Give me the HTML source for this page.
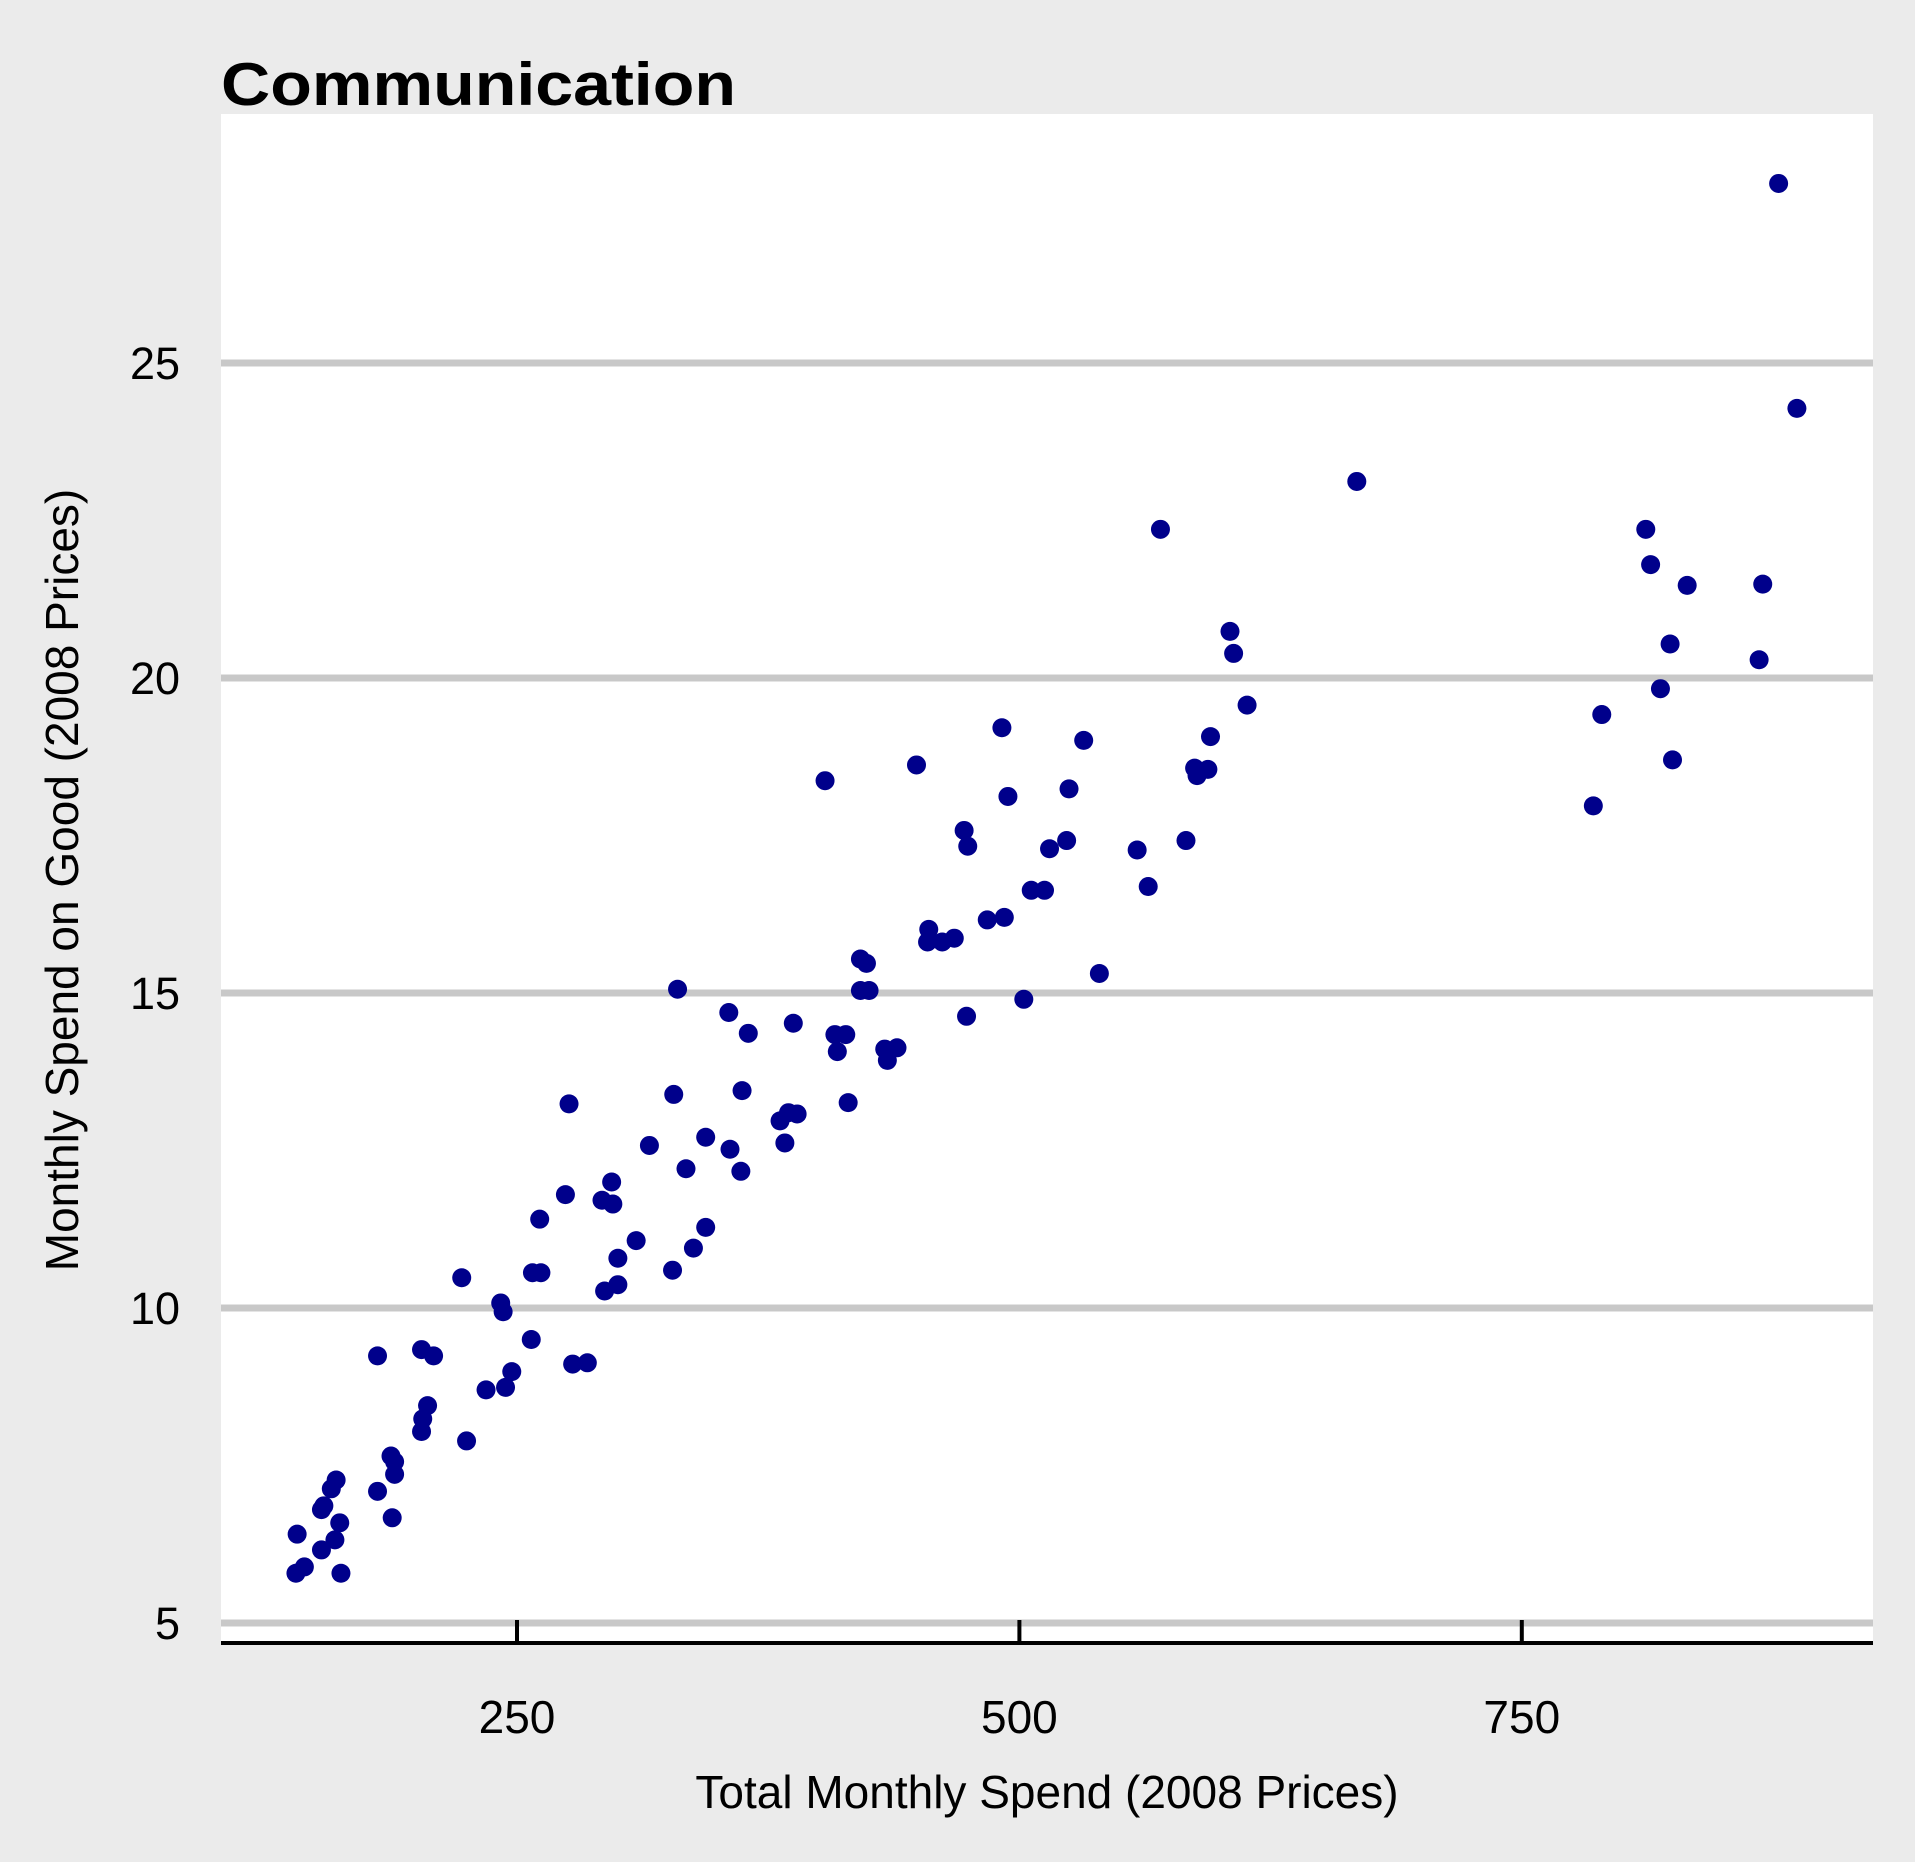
<!DOCTYPE html>
<html><head><meta charset="utf-8"><style>
html,body{margin:0;padding:0;background:#ebebeb;}
svg{display:block;font-family:"Liberation Sans",Arial,sans-serif;}
</style></head><body>
<svg id="chart" width="1915" height="1862" viewBox="0 0 1915 1862">
<rect x="0" y="0" width="1915" height="1862" fill="#ebebeb"/>
<rect x="221" y="114" width="1652" height="1529" fill="#ffffff"/>
<text x="221" y="105" font-size="60" font-weight="bold" fill="#000" textLength="515" lengthAdjust="spacingAndGlyphs">Communication</text>
<g id="grid"></g>
<g id="points"></g>
<g id="axes"></g>
<text x="1047" y="1808" font-size="46" text-anchor="middle" fill="#000">Total Monthly Spend (2008 Prices)</text>
<text transform="translate(78,880) rotate(-90)" font-size="46" text-anchor="middle" fill="#000">Monthly Spend on Good (2008 Prices)</text>
</svg>
<script>
const xTicks = [250, 500, 750];
const yTicks = [5, 10, 15, 20, 25];
const xValues = [876.8,885.9,666.9,569.2,810.7,813.1,831.3,868.9,822.8,867.1,818.0,788.8,824.0,784.6,603.8,605.6,612.3,594.1,586.2,592.8,587.4,581.9,557.6,563.1,538.8,531.0,523.7,522.5,514.0,511.5,504.9,501.2,490.3,493.3,491.5,483.0,471.5,473.3,472.7,466.6,460.6,453.3,453.9,447.8,402.3,419.9,422.9,419.9,424.2,438.1,432.0,433.3,407.2,412.6,408.4,413.8,386.5,364.1,354.4,328.9,361.0,327.0,388.4,384.1,379.9,382.3,342.9,355.0,314.9,333.1,360.4,274.9,273.1,296.1,291.3,296.7,260.3,342.9,308.3,336.8,299.2,326.4,256.7,260.9,221.5,299.2,292.6,240.9,242.1,256.1,179.6,201.5,207.5,276.7,284.0,246.4,233.6,243.3,204.5,202.1,201.5,223.9,186.3,188.1,188.1,179.6,159.0,156.6,152.9,151.7,186.9,160.8,139.6,158.4,151.7,143.2,139.0,161.4];
const yValues = [27.85,24.28,23.12,22.36,22.36,21.80,21.47,21.49,20.54,20.29,19.83,19.42,18.70,17.97,20.74,20.39,19.57,19.07,18.57,18.55,18.45,17.42,17.27,16.69,15.31,19.01,18.24,17.42,17.29,16.63,16.63,14.90,19.21,18.12,16.20,16.16,17.58,17.33,14.63,15.87,15.81,15.81,16.01,18.62,18.37,15.54,15.47,15.04,15.04,14.13,14.11,13.93,14.34,14.34,14.07,13.26,14.52,14.36,14.69,15.06,13.45,13.39,13.08,13.10,12.97,12.62,12.71,12.52,12.58,12.21,12.17,13.24,11.80,12.00,11.71,11.65,11.41,11.28,11.07,10.95,10.79,10.60,10.56,10.56,10.48,10.37,10.27,10.08,9.94,9.50,9.24,9.34,9.24,9.11,9.13,8.99,8.70,8.74,8.45,8.24,8.04,7.89,7.65,7.56,7.36,7.09,7.27,7.13,6.86,6.80,6.67,6.59,6.41,6.32,6.16,5.89,5.79,5.79];

const NS = "http://www.w3.org/2000/svg";
function xs(v){ return 519 + (v - 250) * 2.0096; }
function ys(v){ return 1623 - (v - 5) * 63; }
function mk(tag, attrs, parent){ const e = document.createElementNS(NS, tag); for (const k in attrs) e.setAttribute(k, attrs[k]); parent.appendChild(e); return e; }

const grid = document.getElementById('grid');
const axes = document.getElementById('axes');
const pts = document.getElementById('points');

yTicks.forEach(t => {
  const l = mk('line', {x1:221, x2:1873, y1:ys(t), y2:ys(t), stroke:'#c8c8c8', 'stroke-width':7}, grid);
  
  
  const tx = mk('text', {x:180, y:ys(t)+16, 'font-size':45, 'text-anchor':'end', fill:'#000'}, axes);
  tx.textContent = t;
  
  
});

const axl = mk('line', {x1:221, x2:1873, y1:1643, y2:1643, stroke:'#000', 'stroke-width':4}, axes);



xTicks.forEach(t => {
  const tk = mk('line', {x1:xs(t)-2, x2:xs(t)-2, y1:1620, y2:1643, stroke:'#000', 'stroke-width':4}, axes);
  
  
  const tx = mk('text', {x:xs(t)-2, y:1733, 'font-size':46, 'text-anchor':'middle', fill:'#000'}, axes);
  tx.textContent = t;
  
  
});

xValues.forEach((v, i) => {
  const c = mk('circle', {cx:xs(v), cy:ys(yValues[i]), r:9.5, fill:'#00008b'}, pts);
  
  
});
</script>
</body></html>
